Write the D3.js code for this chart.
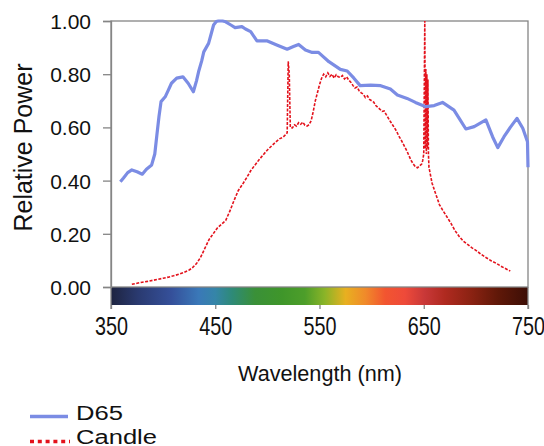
<!DOCTYPE html>
<html>
<head>
<meta charset="utf-8">
<script src="https://cdn.jsdelivr.net/npm/d3@7/dist/d3.min.js"></script>
<style>
  html, body { margin: 0; padding: 0; background: #fff; }
  svg { display: block; font-family: "Liberation Sans", Arial, sans-serif; }
</style>
</head>
<body>
<svg id="chart" width="544" height="446"></svg>
<script>
// ---------- data ----------
const xTicks = [350, 450, 550, 650, 750];
const yTicks = [0, 0.2, 0.4, 0.6, 0.8, 1.0];
const yTickLabels = ["0.00", "0.20", "0.40", "0.60", "0.80", "1.00"];

const d65Wavelength = [359, 362, 366, 370, 375, 380, 384, 389, 392, 394, 396, 398, 402, 405, 408, 413, 419, 424, 429, 432, 434, 437, 439, 443.6, 446, 448.4, 451, 453, 457, 460, 465, 469, 475.6, 479, 484, 490, 500, 509, 519, 525, 530, 536.5, 543, 549, 559, 570, 576.6, 583, 589, 599, 608.7, 618, 624.7, 634, 642, 652, 660, 668, 679, 684, 690.4, 698.4, 709.6, 716, 721, 727, 733, 739.4, 745, 749.5, 750];
const d65Power = [0.396, 0.41, 0.43, 0.44, 0.433, 0.424, 0.443, 0.459, 0.50, 0.571, 0.64, 0.697, 0.715, 0.74, 0.766, 0.785, 0.79, 0.766, 0.734, 0.775, 0.809, 0.85, 0.884, 0.916, 0.95, 0.985, 0.998, 1.0, 1.0, 0.997, 0.985, 0.975, 0.979, 0.97, 0.96, 0.925, 0.925, 0.91, 0.894, 0.904, 0.912, 0.891, 0.882, 0.882, 0.847, 0.818, 0.812, 0.785, 0.757, 0.759, 0.757, 0.744, 0.722, 0.709, 0.694, 0.678, 0.682, 0.694, 0.665, 0.634, 0.594, 0.603, 0.628, 0.565, 0.524, 0.565, 0.60, 0.634, 0.597, 0.546, 0.45];

const candleWavelength = [370, 375, 380, 385, 390, 395, 400, 405, 410, 415, 420, 425, 428, 432, 436, 440, 444, 448, 452, 456, 460, 464, 468, 472, 476, 480, 484, 488, 492, 496, 500, 504, 508, 512, 515, 518, 519, 520, 521, 522, 524, 526, 528, 530, 532, 534, 536, 538, 540, 542, 544, 546, 548, 550, 552, 554, 556, 558, 560, 562, 564, 566, 568, 570, 572, 574, 576, 578, 580, 582, 584, 586, 588, 590, 592, 594, 596, 598, 600, 602, 604, 606, 608, 610, 612, 614, 616, 618, 620, 622, 624, 626, 628, 630, 632, 634, 636, 638, 640, 642, 644, 646, 648, 649, 650, 651, 651.5, 652, 652.5, 653, 653.5, 654, 654.5, 655, 656, 658, 661, 665, 668, 672, 676, 680, 684, 688, 692, 696, 700, 705, 710, 715, 720, 725, 730, 733];
const candlePower = [0.010, 0.014, 0.018, 0.021, 0.025, 0.029, 0.033, 0.037, 0.042, 0.048, 0.055, 0.064, 0.072, 0.088, 0.112, 0.145, 0.178, 0.200, 0.222, 0.236, 0.250, 0.285, 0.325, 0.362, 0.385, 0.410, 0.437, 0.458, 0.478, 0.497, 0.515, 0.530, 0.545, 0.558, 0.563, 0.575, 0.580, 0.848, 0.80, 0.600, 0.598, 0.610, 0.605, 0.618, 0.612, 0.620, 0.608, 0.605, 0.610, 0.625, 0.660, 0.700, 0.730, 0.760, 0.785, 0.800, 0.790, 0.805, 0.792, 0.800, 0.785, 0.798, 0.790, 0.788, 0.795, 0.782, 0.790, 0.778, 0.770, 0.758, 0.748, 0.752, 0.738, 0.730, 0.725, 0.712, 0.718, 0.705, 0.700, 0.695, 0.682, 0.675, 0.668, 0.660, 0.662, 0.648, 0.635, 0.622, 0.610, 0.598, 0.585, 0.568, 0.555, 0.540, 0.525, 0.510, 0.492, 0.475, 0.462, 0.452, 0.448, 0.455, 0.462, 0.475, 0.500, 1.0, 0.52, 0.82, 0.50, 0.80, 0.52, 0.78, 0.50, 0.45, 0.43, 0.39, 0.355, 0.31, 0.290, 0.265, 0.240, 0.212, 0.190, 0.172, 0.160, 0.148, 0.138, 0.123, 0.110, 0.098, 0.088, 0.076, 0.066, 0.060];

const spectrumWavelength = [350, 376, 408, 434, 450, 466, 488, 514, 536, 555, 575, 594, 613, 632, 651, 670, 696, 721, 750];
const spectrumColor = ["#1e2440", "#2a3a70", "#35509a", "#3a78b8", "#3585a8", "#2e8a78", "#3a9038", "#3f962a", "#4d9e2a", "#8ab428", "#e8b020", "#f08a2a", "#f25530", "#ee4a3a", "#c83838", "#b02a20", "#8a2212", "#601808", "#3c0e06"];

const seriesNames = ["D65", "Candle"];

// ---------- layout ----------
const svg = d3.select("#chart");
const pLeft = 111, pRight = 528, pTop = 21, pBottom = 287;
const barBottom = 305;

const x = d3.scaleLinear().domain([350, 750]).range([pLeft, pRight]);
const y = d3.scaleLinear().domain([0, 1]).range([pBottom, pTop]);

const frameColor = "#858585";

// spectrum bar
const defs = svg.append("defs");
const grad = defs.append("linearGradient").attr("id", "spec")
  .attr("x1", "0%").attr("x2", "100%").attr("y1", "0%").attr("y2", "0%");
spectrumWavelength.forEach((w, i) => {
  grad.append("stop")
    .attr("offset", ((x(w) - pLeft) / (pRight - pLeft) * 100) + "%")
    .attr("stop-color", spectrumColor[i]);
});
svg.append("rect")
  .attr("x", x(350)).attr("y", pBottom)
  .attr("width", x(750) - x(350)).attr("height", barBottom - pBottom)
  .attr("fill", "url(#spec)");

// frame
svg.append("rect")
  .attr("x", pLeft).attr("y", pTop)
  .attr("width", pRight - pLeft).attr("height", pBottom - pTop)
  .attr("fill", "none").attr("stroke", frameColor).attr("stroke-width", 1.3);

// y axis
const yAxis = d3.axisLeft(y).tickValues(yTicks).tickSize(8).tickFormat((d, i) => yTickLabels[i]);
const gy = svg.append("g").attr("transform", `translate(${pLeft},0)`).call(yAxis);
gy.select(".domain").attr("stroke", frameColor).attr("stroke-width", 1.3);
gy.selectAll(".tick line").attr("stroke", frameColor).attr("stroke-width", 1.3);
gy.selectAll(".tick text")
  .attr("x", -20).attr("dy", null).attr("y", 7.5)
  .attr("font-size", 21).attr("fill", "#111")
  .attr("font-family", "'Liberation Sans', Arial, sans-serif");

// x axis (below spectrum bar)
const xAxis = d3.axisBottom(x).tickValues(xTicks).tickSize(4).tickFormat(d3.format("d"));
const gx = svg.append("g").attr("transform", `translate(0,${barBottom})`).call(xAxis);
gx.select(".domain").remove();
gx.selectAll(".tick line").attr("stroke", frameColor).attr("stroke-width", 1.3);
gx.selectAll(".tick text")
  .attr("y", 30).attr("dy", null)
  .attr("font-size", 25).attr("fill", "#111")
  .attr("textLength", 33).attr("lengthAdjust", "spacingAndGlyphs")
  .attr("font-family", "'Liberation Sans', Arial, sans-serif");
// side lines of bar
svg.append("line").attr("x1", pLeft).attr("x2", pLeft).attr("y1", pBottom).attr("y2", barBottom + 4)
  .attr("stroke", frameColor).attr("stroke-width", 1.3);
svg.append("line").attr("x1", pRight).attr("x2", pRight).attr("y1", pBottom).attr("y2", barBottom + 4)
  .attr("stroke", frameColor).attr("stroke-width", 1.3);

// lines
const d65 = d65Wavelength.map((w, i) => [w, d65Power[i]]);
const candle = candleWavelength.map((w, i) => [w, candlePower[i]]);
const line = d3.line().x(d => x(d[0])).y(d => y(d[1]));

svg.append("path").datum(candle)
  .attr("d", line).attr("fill", "none")
  .attr("stroke", "#e3121c").attr("stroke-width", 1.6)
  .attr("stroke-dasharray", "3,1.5");

svg.append("path").datum(d65)
  .attr("d", line).attr("fill", "none")
  .attr("stroke", "#7b8ce4").attr("stroke-width", 3.2)
  .attr("stroke-linejoin", "round");

// axis titles
svg.append("text")
  .attr("transform", "translate(32,147.5) rotate(-90)")
  .attr("text-anchor", "middle")
  .attr("font-size", 25).attr("fill", "#111")
  .attr("textLength", 168).attr("lengthAdjust", "spacingAndGlyphs")
  .text("Relative Power");

svg.append("text")
  .attr("x", 320).attr("y", 381)
  .attr("text-anchor", "middle")
  .attr("font-size", 22).attr("fill", "#111")
  .attr("textLength", 164).attr("lengthAdjust", "spacingAndGlyphs")
  .text("Wavelength (nm)");

// legend
const legend = svg.append("g");
legend.append("line").attr("x1", 30).attr("x2", 68).attr("y1", 416.5).attr("y2", 416.5)
  .attr("stroke", "#7b8ce4").attr("stroke-width", 3.5);
legend.append("line").attr("x1", 30).attr("x2", 70).attr("y1", 441.5).attr("y2", 441.5)
  .attr("stroke", "#e3121c").attr("stroke-width", 3.5).attr("stroke-dasharray", "4,3.8");
legend.append("text").attr("x", 76).attr("y", 419.5)
  .attr("font-size", 20).attr("fill", "#111")
  .attr("textLength", 47).attr("lengthAdjust", "spacingAndGlyphs")
  .text(seriesNames[0]);
legend.append("text").attr("x", 76).attr("y", 444)
  .attr("font-size", 20).attr("fill", "#111")
  .attr("textLength", 81).attr("lengthAdjust", "spacingAndGlyphs")
  .text(seriesNames[1]);
</script>
</body>
</html>
